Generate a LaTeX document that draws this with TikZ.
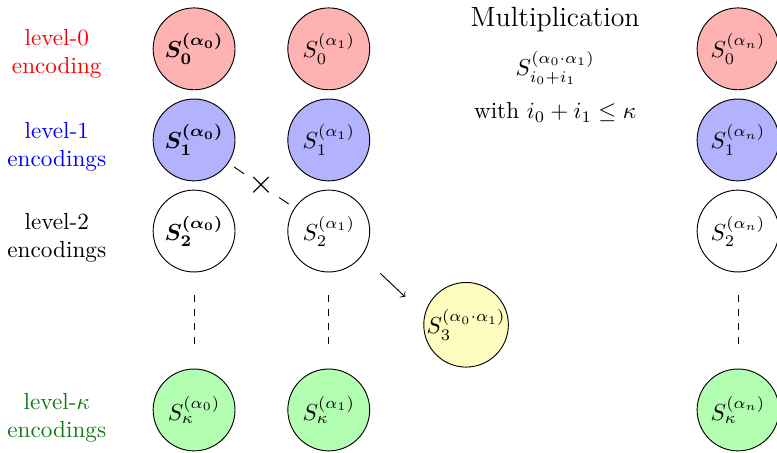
\documentclass[tikz,border=0pt]{standalone}
\usepackage{amsmath,amssymb,amsfonts,bm}
\usepackage{tikz}
\usepackage{xcolor}
\usetikzlibrary{positioning,calc}
\definecolor{levelGreen}{RGB}{20,120,20}

\begin{document}
\begin{tikzpicture}[
        enc/.style={circle, draw, inner sep=0pt, minimum size=1.24cm},
        lvl/.style={align=center}]
    \useasboundingbox (0,0) rectangle (11.77,-6.85);
    % level labels
    \node[lvl, red] (l0) at (0.86,-0.82) {level-0\\encoding};
    \node[lvl, blue] (l1) at (0.86,-2.23) {level-1\\encodings};
    \node[lvl] (l2) at (0.86,-3.60) {level-2\\encodings};
    \node[lvl, levelGreen] (lk) at (0.86,-6.33) {level-$\kappa$\\encodings};
    % ciphertext alpha_0
    \node[enc, fill=red!30] (a00) at (2.94,-0.74) {$\bm{S_0^{(\alpha_0)}}$};
    \node[enc, fill=blue!30] (a01) at (2.94,-2.12) {$\bm{S_1^{(\alpha_0)}}$};
    \node[enc] (a02) at (2.94,-3.50) {$\bm{S_2^{(\alpha_0)}}$};
    \node[enc, fill=green!30] (a0k) at (2.94,-6.21) {$S_\kappa^{(\alpha_0)}$};
    % ciphertext alpha_1
    \node[enc, fill=red!30] (a10) at (4.98,-0.74) {$S_0^{(\alpha_1)}$};
    \node[enc, fill=blue!30] (a11) at (4.98,-2.12) {$S_1^{(\alpha_1)}$};
    \node[enc] (a12) at (4.98,-3.50) {$S_2^{(\alpha_1)}$};
    \node[enc, fill=green!30] (a1k) at (4.98,-6.21) {$S_\kappa^{(\alpha_1)}$};
    % ciphertext alpha_n
    \node[enc, fill=red!30] (an0) at (11.18,-0.74) {$S_0^{(\alpha_n)}$};
    \node[enc, fill=blue!30] (an1) at (11.18,-2.12) {$S_1^{(\alpha_n)}$};
    \node[enc] (an2) at (11.18,-3.50) {$S_2^{(\alpha_n)}$};
    \node[enc, fill=green!30] (ank) at (11.18,-6.21) {$S_\kappa^{(\alpha_n)}$};
    % product
    \node[enc, fill=yellow!25] (prod) at (7.06,-4.92) {$S_3^{(\alpha_0\cdot\alpha_1)}$};
    \node[font=\large] (mult) at (8.41,-0.30) {Multiplication};
    \node (rule) at (8.41,-1.03) {$S_{i_0+i_1}^{(\alpha_0\cdot\alpha_1)}$};
    \node (cond) at (8.41,-1.70) {with $i_0+i_1\leq\kappa$};
    % dots between level 2 and level kappa
    \foreach \c in {a0,a1,an} {
        \draw[dashed] ($(\c 2)+(0,-0.97)$) -- ($(\c k)+(0,0.91)$);
    }
    % product of level-1 encodings
    \draw[shorten <=3pt, shorten >=3pt] (a01) -- node[fill=white, inner sep=2pt, font=\Large] {$\times$} (a12);
    \coordinate (arrS) at (5.76,-4.14);
    \coordinate (arrE) at (6.14,-4.50);
    \draw[->] (arrS) -- (arrE);
\end{tikzpicture}
\end{document}
